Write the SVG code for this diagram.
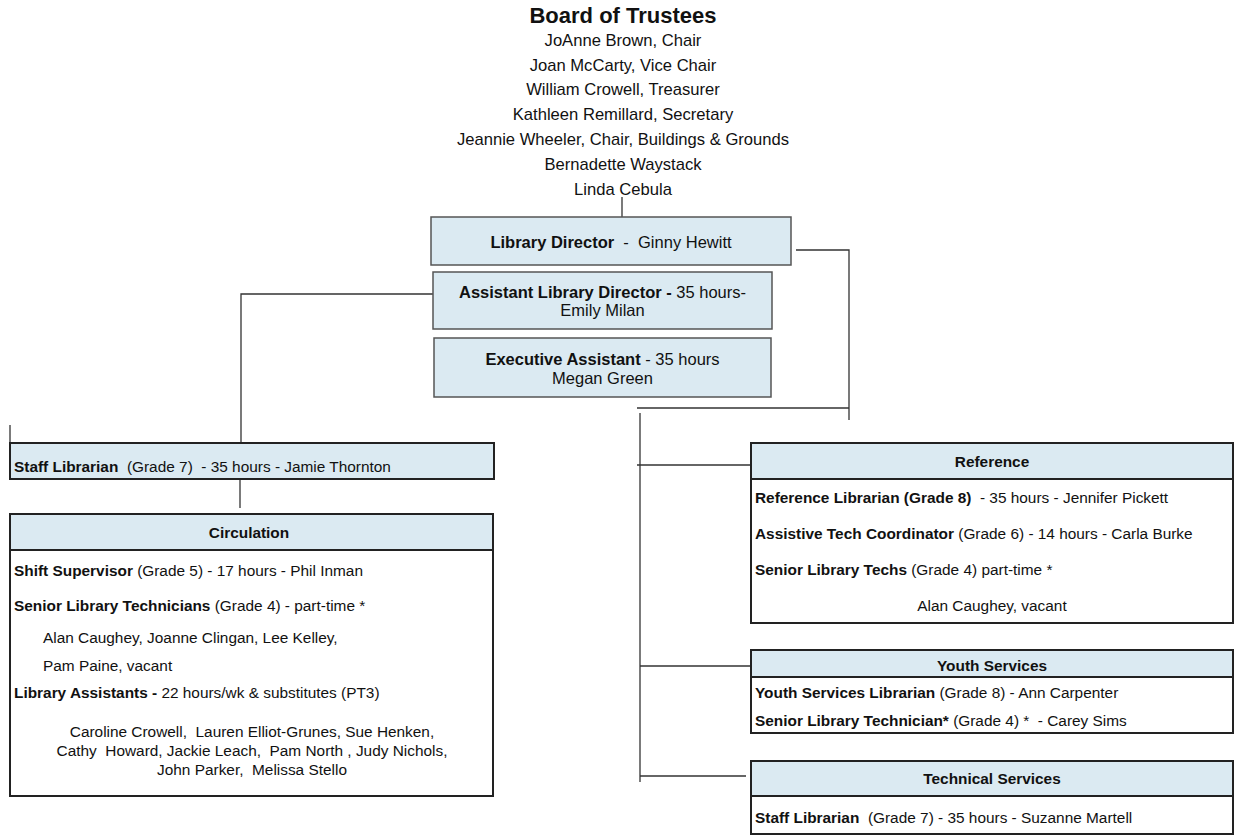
<svg xmlns="http://www.w3.org/2000/svg" width="1235" height="838" viewBox="0 0 1235 838">
<style>
text{font-family:"Liberation Sans",Arial,sans-serif;fill:#111;white-space:pre}
.title{font-size:22px;font-weight:bold}
.bn{font-size:16.6px}
.top{font-size:16.5px}
.sec{font-size:15.4px}
.b{font-weight:bold}
.c{text-anchor:middle}
.hdr{fill:#dbeaf2;stroke:#222;stroke-width:2}
.body{fill:#fff;stroke:#222;stroke-width:2}
.tbox{fill:#dbeaf2;stroke:#555;stroke-width:1.5}
.ln{fill:none;stroke:#333;stroke-width:1.3}
</style>
<rect width="1235" height="838" fill="#fff"/>
<g id="board">
<text class="title c" x="623" y="23">Board of Trustees</text>
<text class="bn c" x="623" y="46">JoAnne Brown, Chair</text>
<text class="bn c" x="623" y="70.5">Joan McCarty, Vice Chair</text>
<text class="bn c" x="623" y="95">William Crowell, Treasurer</text>
<text class="bn c" x="623" y="120">Kathleen Remillard, Secretary</text>
<text class="bn c" x="623" y="144.5">Jeannie Wheeler, Chair, Buildings &amp; Grounds</text>
<text class="bn c" x="623" y="170">Bernadette Waystack</text>
<text class="bn c" x="623" y="195">Linda Cebula</text>
</g>
<g id="connectors">
<path class="ln" d="M622,197 V217"/>
<path class="ln" d="M796,250 H849 V420"/>
<path class="ln" d="M637,408 H849"/>
<path class="ln" d="M640,413 V782"/>
<path class="ln" d="M637,465 H751"/>
<path class="ln" d="M640,666 H751"/>
<path class="ln" d="M640,776 H746"/>
<path class="ln" d="M433,294 H241 V443"/>
<path class="ln" d="M10,425 V443"/>
<path class="ln" d="M240,476 V508"/>
</g>
<g id="director">
<rect class="tbox" x="431" y="217" width="360" height="48"/>
<text class="top c" x="611" y="248"><tspan class="b">Library Director</tspan>  -  Ginny Hewitt</text>
</g>
<g id="assistant-director">
<rect class="tbox" x="433" y="272" width="339" height="57"/>
<text class="top c" x="602.5" y="298"><tspan class="b">Assistant Library Director -</tspan> 35 hours-</text>
<text class="top c" x="602.5" y="316">Emily Milan</text>
</g>
<g id="executive-assistant">
<rect class="tbox" x="434" y="338" width="337" height="59"/>
<text class="top c" x="602.5" y="365"><tspan class="b">Executive Assistant</tspan> - 35 hours</text>
<text class="top c" x="602.5" y="384">Megan Green</text>
</g>
<g id="staff-librarian">
<rect class="hdr" x="10" y="443" width="484" height="36"/>
<text class="sec" x="14" y="472"><tspan class="b">Staff Librarian</tspan>  (Grade 7)  - 35 hours - Jamie Thornton</text>
</g>
<g id="circulation">
<rect class="body" x="10" y="514" width="483" height="282"/>
<rect class="hdr" x="10" y="514" width="483" height="36"/>
<text class="sec b c" x="249" y="537.5">Circulation</text>
<text class="sec" x="14" y="575.5"><tspan class="b">Shift Supervisor</tspan> (Grade 5) - 17 hours - Phil Inman</text>
<text class="sec" x="14" y="611"><tspan class="b">Senior Library Technicians</tspan> (Grade 4) - part-time *</text>
<text class="sec" x="43" y="643">Alan Caughey, Joanne Clingan, Lee Kelley,</text>
<text class="sec" x="43" y="670.5">Pam Paine, vacant</text>
<text class="sec" x="14" y="698"><tspan class="b">Library Assistants -</tspan> 22 hours/wk &amp; substitutes (PT3)</text>
<text class="sec c" x="252" y="737">Caroline Crowell,  Lauren Elliot-Grunes, Sue Henken,</text>
<text class="sec c" x="252" y="756">Cathy  Howard, Jackie Leach,  Pam North , Judy Nichols,</text>
<text class="sec c" x="252" y="775">John Parker,  Melissa Stello</text>
</g>
<g id="reference">
<rect class="body" x="751" y="443" width="482" height="180"/>
<rect class="hdr" x="751" y="443" width="482" height="36"/>
<text class="sec b c" x="992" y="467">Reference</text>
<text class="sec" x="755" y="502.5"><tspan class="b">Reference Librarian (Grade 8)</tspan>  - 35 hours - Jennifer Pickett</text>
<text class="sec" x="755" y="538.5"><tspan class="b">Assistive Tech Coordinator</tspan> (Grade 6) - 14 hours - Carla Burke</text>
<text class="sec" x="755" y="575"><tspan class="b">Senior Library Techs</tspan> (Grade 4) part-time *</text>
<text class="sec c" x="992" y="610.5">Alan Caughey, vacant</text>
</g>
<g id="youth-services">
<rect class="body" x="751" y="650" width="482" height="83"/>
<rect class="hdr" x="751" y="650" width="482" height="27"/>
<text class="sec b c" x="992" y="670.5">Youth Services</text>
<text class="sec" x="755" y="698"><tspan class="b">Youth Services Librarian</tspan> (Grade 8) - Ann Carpenter</text>
<text class="sec" x="755" y="725.5"><tspan class="b">Senior Library Technician*</tspan> (Grade 4) *  - Carey Sims</text>
</g>
<g id="technical-services">
<rect class="body" x="751" y="761" width="482" height="73"/>
<rect class="hdr" x="751" y="761" width="482" height="35"/>
<text class="sec b c" x="992" y="783.5">Technical Services</text>
<text class="sec" x="755" y="822.5"><tspan class="b">Staff Librarian</tspan>  (Grade 7) - 35 hours - Suzanne Martell</text>
</g>
</svg>
